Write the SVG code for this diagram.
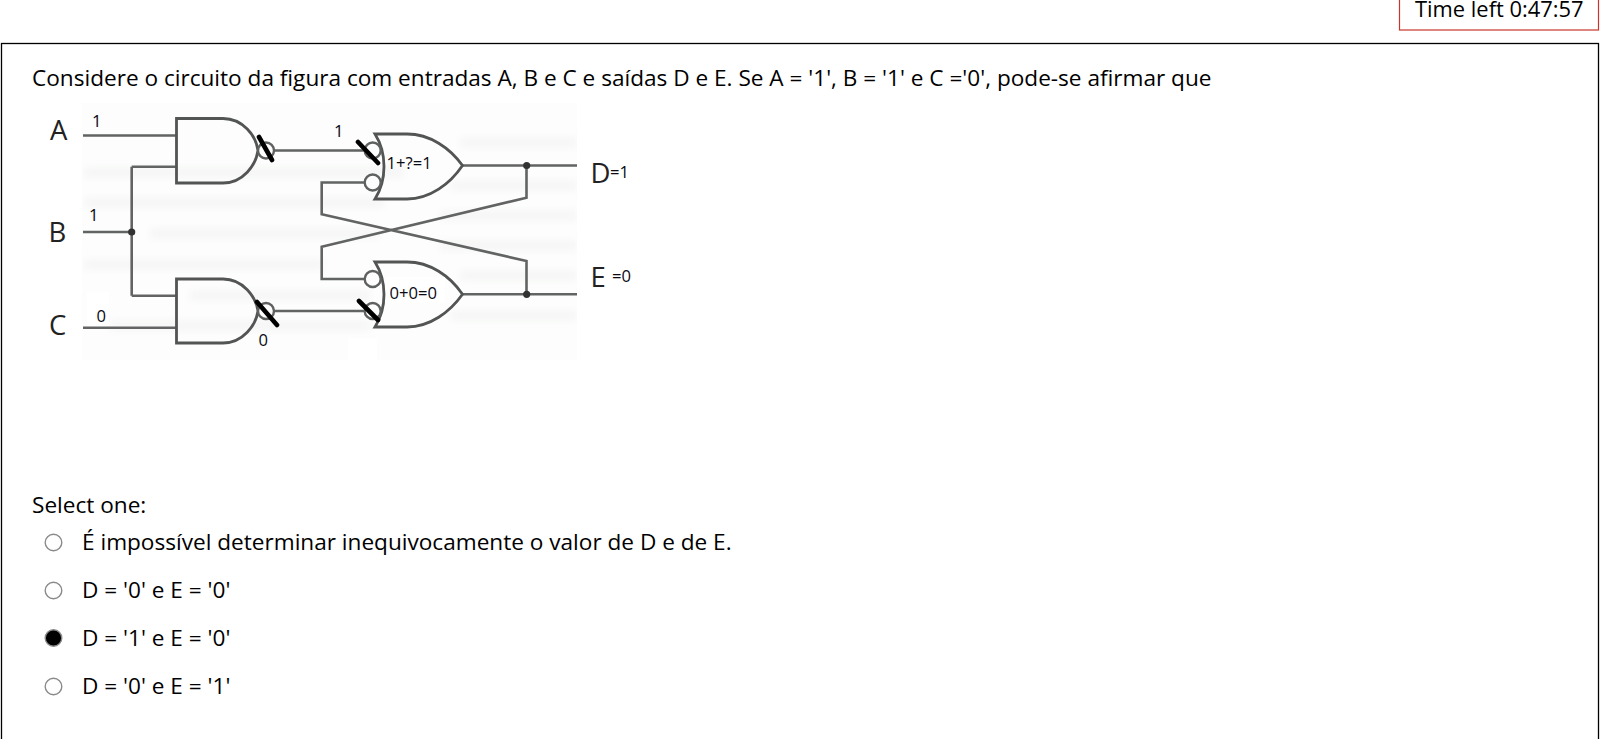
<svg xmlns="http://www.w3.org/2000/svg" width="1603" height="739" viewBox="0 0 1603 739">
<style>
text{font-family:"Open Sans","Noto Sans",sans-serif;fill:#000}
.t{font-size:22.6px}
.s{font-size:16.6px;fill:#0a0a14}
.l{font-size:27.5px;fill:#222}
.w{fill:none;stroke:#626464;stroke-width:2.6}
.g{fill:none;stroke:#525454;stroke-width:2.8}
.b{fill:#fcfdfc;stroke:#5f6161;stroke-width:2.4}
.k{stroke:#000;stroke-width:4.6;stroke-linecap:round;fill:none}
.r{fill:#fff;stroke:#8a8a8a;stroke-width:1.4}
.h{fill:#f6f7f6}
</style>
<defs>
<filter id="soft" x="-5%" y="-5%" width="110%" height="110%"><feGaussianBlur stdDeviation="0.6"/></filter>
<filter id="haze" x="-5%" y="-10%" width="110%" height="120%"><feGaussianBlur stdDeviation="3"/></filter>
<clipPath id="bgclip"><rect x="82" y="103" width="495" height="257"/></clipPath>
</defs>
<rect width="1603" height="739" fill="#fff"/>
<g id="timer"><rect x="1399.5" y="-5" width="199" height="35" fill="#fff" stroke="#c8352a" stroke-width="1.2"/><text x="1415" y="16.5" style="font-size:21.9px">Time left 0:47:57</text></g>
<rect id="frame" x="1.5" y="43.5" width="1597" height="720" fill="#fff" stroke="#000" stroke-width="1.3"/>
<text class="t" x="32" y="86">Considere o circuito da figura com entradas A, B e C e saídas D e E. Se A = '1', B = '1' e C ='0', pode-se afirmar que</text>
<g id="figure-bg" clip-path="url(#bgclip)">
<rect x="82" y="103" width="495" height="257" fill="#fcfdfc"/>
<g filter="url(#haze)">
<rect class="h" x="84" y="167" width="320" height="11"/><rect class="h" x="460" y="137" width="117" height="11"/>
<rect class="h" x="84" y="197" width="300" height="11"/><rect class="h" x="450" y="180" width="127" height="11"/>
<rect class="h" x="150" y="228" width="230" height="11"/><rect class="h" x="440" y="210" width="137" height="11"/>
<rect class="h" x="84" y="259" width="240" height="11"/><rect class="h" x="440" y="240" width="137" height="11"/>
<rect class="h" x="190" y="290" width="180" height="11"/><rect class="h" x="460" y="270" width="117" height="11"/>
<rect class="h" x="110" y="320" width="260" height="11"/><rect class="h" x="450" y="310" width="127" height="11"/>
</g>
<rect x="87" y="292" width="22" height="34" fill="#fff"/><rect x="348" y="338" width="29" height="22" fill="#fff"/>
</g>
<g id="connectors" filter="url(#soft)">
<path class="w" d="M83 135.5H176M83 232H131.7M131.7 166.7V295.7M131.7 166.7H176M131.7 295.7H176M83 327.7H176"/>
<path class="w" d="M274 150.5H365M274 311H365"/>
<path class="w" d="M365 182.5H321.7V214.3L526.5 261V294.3M365 279H321.7V246.7L526.5 197.7V165.7"/>
<path class="w" d="M462 165.5H577M462 294.3H577"/>
<circle cx="131.7" cy="232" r="3.6" fill="#333"/><circle cx="526.7" cy="165.5" r="3.6" fill="#333"/><circle cx="526.7" cy="294.3" r="3.6" fill="#333"/>
</g>
<g id="nand-top" filter="url(#soft)"><path class="g" d="M176.5 118.5H223C243 118.5 256 136 258 150.5C256 165 243 183 223 183H176.5Z"/><circle class="b" cx="266" cy="150.5" r="8"/></g>
<g id="nand-bottom" filter="url(#soft)"><path class="g" d="M176.5 279H223C243 279 256 297 258 311C256 325 243 343 223 343H176.5Z"/><circle class="b" cx="266" cy="311" r="8"/></g>
<g id="nor-top" filter="url(#soft)"><path class="g" d="M375 134H407C430 134 450 148 462.5 165.5C450 184 430 199 407 199H375C387 180 387 153 375 134Z"/><circle class="b" cx="372.7" cy="150.5" r="8"/><circle class="b" cx="372.7" cy="182.5" r="8"/></g>
<g id="nor-bottom" filter="url(#soft)"><path class="g" d="M375 262H407C430 262 450 276 462.5 294.3C450 312 430 327 407 327H375C387 308 387 281 375 262Z"/><circle class="b" cx="372.7" cy="279" r="8"/><circle class="b" cx="372.7" cy="311" r="8"/></g>
<rect x="386" y="277" width="59" height="26" fill="#fff"/>
<g id="strikes"><path class="k" d="M259 137L272 160M257 302L277 325M358 142L378 163M359 301L378 320"/></g>
<g id="labels">
<text class="l" x="50" y="139.5">A</text><text class="l" x="48.5" y="241.7">B</text><text class="l" x="49" y="335">C</text>
<text class="l" x="590.5" y="183">D</text><text class="l" x="590.5" y="286.7">E</text>
<text class="s" x="92" y="126.7">1</text><text class="s" x="89" y="221">1</text><text class="s" x="96.5" y="322">0</text>
<text class="s" x="334" y="136.7">1</text><text class="s" x="258.5" y="345.7">0</text>
<text class="s" x="386.5" y="169">1+?=1</text><text class="s" x="389.5" y="299">0+0=0</text>
<text class="s" x="610" y="178">=1</text><text class="s" x="612" y="282">=0</text>
</g>
<text class="t" x="32" y="513">Select one:</text>
<g id="opt1"><circle class="r" cx="53.5" cy="542.5" r="8.3"/><text class="t" x="82" y="550">É impossível determinar inequivocamente o valor de D e de E.</text></g>
<g id="opt2"><circle class="r" cx="53.5" cy="590.5" r="8.3"/><text class="t" x="82" y="598">D = '0' e E = '0'</text></g>
<g id="opt3"><circle cx="53.5" cy="638" r="8.3" fill="#000" stroke="#8a8a8a" stroke-width="1.4"/><text class="t" x="82" y="646">D = '1' e E = '0'</text></g>
<g id="opt4"><circle class="r" cx="53.5" cy="686.5" r="8.3"/><text class="t" x="82" y="694">D = '0' e E = '1'</text></g>
</svg>
